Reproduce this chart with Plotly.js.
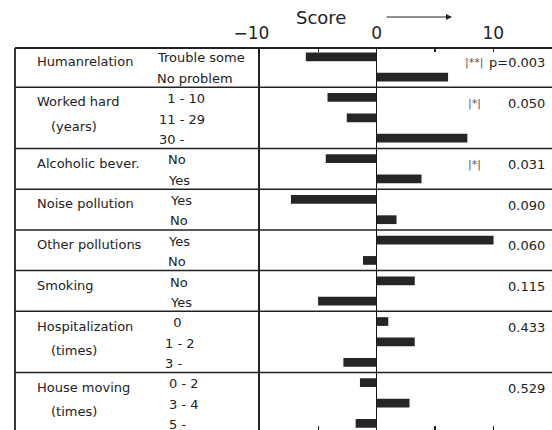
<!DOCTYPE html>
<html><head><meta charset="utf-8">
<script src="https://cdn.plot.ly/plotly-3.0.1.min.js"></script>
<style>html,body{margin:0;padding:0;overflow:hidden;background:#fff}#chart{width:552px;height:440px}</style>
</head><body><div id="chart"></div>
<script>
// ---- data ----
const groups = ['Humanrelation', 'Worked hard', 'Alcoholic bever.', 'Noise pollution', 'Other pollutions', 'Smoking', 'Hospitalization', 'House moving'];
const groupNotes = ['', '(years)', '', '', '', '', '(times)', '(times)'];
const groupSizes = [2, 3, 2, 2, 2, 2, 3, 3];
const categories = ['Trouble some', 'No problem', '\u20071 - 10', '11 - 29', '30 -', 'No', 'Yes', 'Yes', 'No', 'Yes', 'No', 'No', 'Yes', '\u20070', '1 - 2', '3 -', '0 - 2', '3 - 4', '5 -'];
const scores = [-6.07, 6.13, -4.21, -2.56, 7.78, -4.36, 3.85, -7.35, 1.71, 10.03, -1.17, 3.27, -5.02, 1.0, 3.27, -2.85, -1.43, 2.82, -1.8];
const pValues = ['p=0.003', '0.050', '0.031', '0.090', '0.060', '0.115', '0.433', '0.529'];
const significance = ['|**|', '|*|', '|*|', '', '', '', '', ''];
const tickVals = [-10, -5, 0, 5, 10];
const tickText = ['\u221210\u2003', '', '0', '', '10'];

// ---- layout helpers ----
const W = 552, H = 440, mL = 15, mT = 48, mB = 4;
const paperW = W - mL, plotH = H - mT - mB;
const px = p => (p - mL) / paperW;
const py = p => 1 + (mT - p) / plotH;
const subX = [155, 157, 166, 168, 166, 168, 163, 167];
const FONT = 'DejaVu Sans, sans-serif';
const ink = '#222';

const rows = scores.map((_, i) => i);
const firstRow = [];
let acc = 0;
groupSizes.forEach(n => { firstRow.push(acc); acc += n; });

const annotations = [];
const shapes = [];

groups.forEach((g, gi) => {
  const r0 = firstRow[gi];
  annotations.push({xref: 'paper', yref: 'y', x: px(35), y: r0 + 0.22, text: g, showarrow: false, xanchor: 'left', yanchor: 'middle', font: {family: FONT, size: 13, color: ink}});
  if (groupNotes[gi]) annotations.push({xref: 'paper', yref: 'y', x: px(49), y: r0 + 1.43, text: groupNotes[gi], showarrow: false, xanchor: 'left', yanchor: 'middle', font: {family: FONT, size: 13, color: ink}});
  for (let k = 0; k < groupSizes[gi]; k++) {
    annotations.push({xref: 'paper', yref: 'y', x: px(subX[gi]), y: r0 + k + 0.06, text: categories[r0 + k], showarrow: false, xanchor: 'left', yanchor: 'middle', font: {family: FONT, size: 13, color: ink}});
  }
  annotations.push({xref: 'paper', yref: 'y', x: px(547), y: r0 + 0.28, text: pValues[gi], showarrow: false, xanchor: 'right', yanchor: 'middle', font: {family: FONT, size: 13, color: ink}});
  if (significance[gi]) annotations.push({xref: 'paper', yref: 'y', x: px(474), y: r0 + 0.28, text: significance[gi], showarrow: false, xanchor: 'center', yanchor: 'middle', font: {family: FONT, size: 11, color: '#555'}});
  if (gi > 0) shapes.push({type: 'line', xref: 'paper', yref: 'y', x0: 0, x1: 1, y0: r0 - 0.5, y1: r0 - 0.5, line: {color: ink, width: 1.5}});
});

// title + arrow
annotations.push({xref: 'paper', yref: 'paper', x: px(321), y: py(17), text: 'Score', showarrow: false, xanchor: 'center', yanchor: 'middle', font: {family: FONT, size: 18, color: ink}});
annotations.push({xref: 'paper', yref: 'paper', x: px(452), y: py(17), text: '', showarrow: true, ax: -67, ay: 0, arrowhead: 2, arrowsize: 1, arrowwidth: 1.2, arrowcolor: ink});

// table borders
shapes.push({type: 'line', xref: 'paper', yref: 'paper', x0: 0, x1: 1, y0: 1, y1: 1, line: {color: ink, width: 1.8}});
shapes.push({type: 'line', xref: 'paper', yref: 'paper', x0: 0, x1: 0, y0: 0, y1: 1, line: {color: ink, width: 1.8}});

const trace = {
  type: 'bar', orientation: 'h', x: scores, y: rows, width: 0.43,
  marker: {color: '#262626', line: {width: 0}}, hoverinfo: 'none', xaxis: 'x', yaxis: 'y'
};
const dummy = {type: 'scatter', mode: 'none', x: [0], y: [0], xaxis: 'x2', yaxis: 'y', hoverinfo: 'none', showlegend: false};

const layout = {
  width: W, height: H,
  margin: {l: mL, r: 0, t: mT, b: mB, pad: 0},
  paper_bgcolor: '#fff', plot_bgcolor: '#fff',
  showlegend: false,
  xaxis: {
    domain: [px(260), 1], range: [-10, 15.04], side: 'top',
    tickmode: 'array', tickvals: tickVals, ticktext: tickText,
    ticks: 'inside', ticklen: 4, tickwidth: 1.2, tickcolor: ink,
    ticklabelstandoff: 5,
    tickfont: {family: FONT, size: 17, color: ink},
    showgrid: false, showline: false,
    zeroline: true, zerolinecolor: '#111', zerolinewidth: 1.5, fixedrange: true
  },
  xaxis2: {
    domain: [px(260), 1], range: [-10, 15.04], overlaying: 'x', anchor: 'y', side: 'bottom',
    tickmode: 'array', tickvals: [-5, 0, 5, 10], showticklabels: false,
    ticks: 'inside', ticklen: 10, tickwidth: 1.2, tickcolor: ink,
    showgrid: false, showline: false, zeroline: false, fixedrange: true
  },
  yaxis: {
    range: [18.62, -0.43], showticklabels: false, ticks: '', showgrid: false,
    zeroline: false, showline: true, linecolor: ink, linewidth: 1.8, fixedrange: true
  },
  shapes: shapes,
  annotations: annotations
};

Plotly.newPlot('chart', [trace, dummy], layout, {staticPlot: true, displayModeBar: false});
</script>
</body></html>
